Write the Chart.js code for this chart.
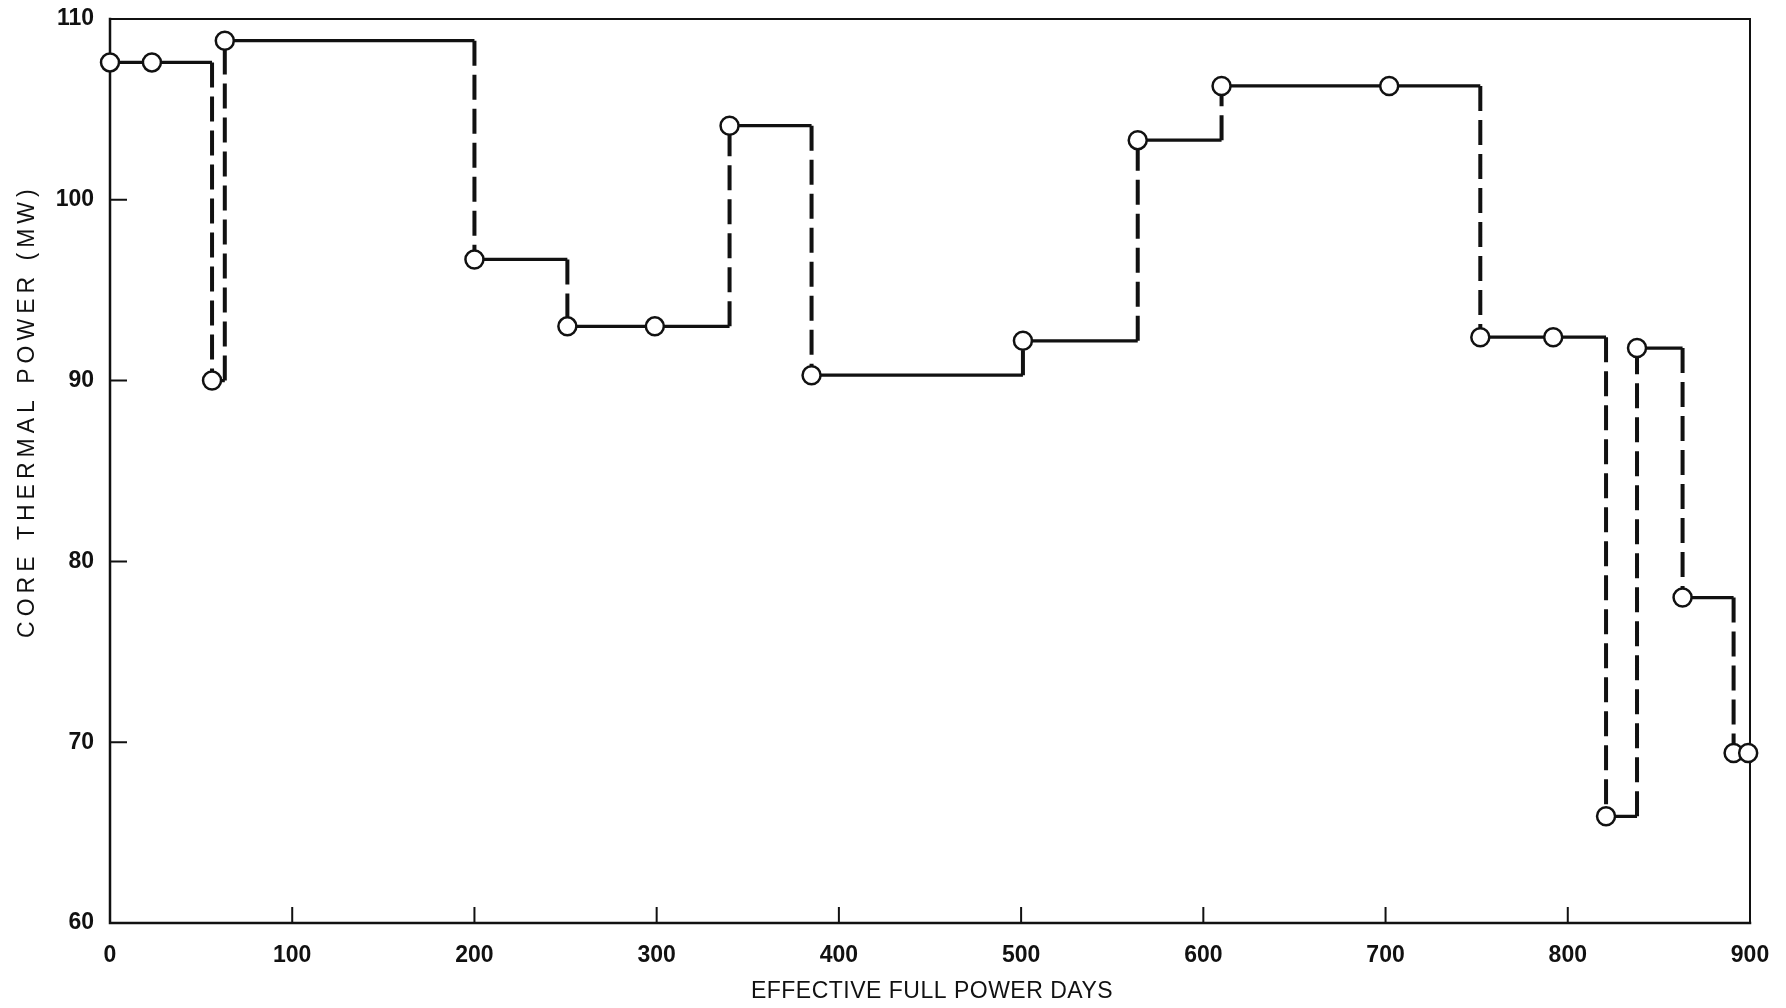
<!DOCTYPE html>
<html><head><meta charset="utf-8">
<script src="https://cdn.jsdelivr.net/npm/chart.js@4"></script>
<style>html,body{margin:0;padding:0;background:#fff;} #wrap{width:1786px;height:1008px;position:relative;}</style>
</head><body><div id="wrap"><canvas id="c"></canvas></div>
<script>
const days    = [0, 23, 56, 63, 200, 251, 299, 340, 385, 501, 564, 610, 702, 752, 792, 821, 838, 863, 891, 899];
const powerMW = [107.6, 107.6, 90.0, 108.8, 96.7, 93.0, 93.0, 104.1, 90.3, 92.2, 103.3, 106.3, 106.3, 92.4, 92.4, 65.9, 91.8, 78.0, 69.4, 69.4];
const xTickValues = [0, 100, 200, 300, 400, 500, 600, 700, 800, 900];
const yTickValues = [60, 70, 80, 90, 100, 110];
const xTitle = 'EFFECTIVE FULL POWER DAYS';
const yTitle = 'CORE THERMAL POWER (MW)';

const FONT = "'Liberation Sans', Arial, sans-serif";
const INK = '#111';

// horizontal (solid) and vertical (dashed) step pieces built from the data
const flats = [], risers = [];
for (let i = 0; i < days.length - 1; i++) {
  flats.push({x: days[i], y: powerMW[i]}, {x: days[i + 1], y: powerMW[i]}, {x: days[i + 1], y: null});
  if (powerMW[i + 1] !== powerMW[i]) {
    risers.push({x: days[i + 1], y: powerMW[i]}, {x: days[i + 1], y: powerMW[i + 1]}, {x: days[i + 1], y: null});
  }
}
const points = days.map((d, i) => ({x: d, y: powerMW[i]}));

const framePlugin = {
  id: 'frame',
  beforeDatasetsDraw(chart) {
    const {ctx, chartArea: a, scales: {x, y}} = chart;
    ctx.save();
    ctx.strokeStyle = INK; ctx.lineCap = 'square';
    ctx.lineWidth = 2.5;
    ctx.beginPath(); ctx.moveTo(a.left, a.top); ctx.lineTo(a.left, a.bottom); ctx.lineTo(a.right, a.bottom); ctx.stroke();
    ctx.lineWidth = 2;
    ctx.beginPath(); ctx.moveTo(a.left, a.top); ctx.lineTo(a.right, a.top); ctx.lineTo(a.right, a.bottom); ctx.stroke();
    ctx.lineCap = 'butt';
    ctx.beginPath();
    x.ticks.forEach(t => { if (t.value <= x.min || t.value >= x.max) return; const px = x.getPixelForValue(t.value); ctx.moveTo(px, a.bottom); ctx.lineTo(px, a.bottom - 16); });
    y.ticks.forEach(t => { if (t.value <= y.min || t.value >= y.max) return; const py = y.getPixelForValue(t.value); ctx.moveTo(a.left, py); ctx.lineTo(a.left + 17, py); });
    ctx.stroke();
    ctx.restore();
  },
  afterDraw(chart) {
    const {ctx, chartArea: a} = chart;
    ctx.save();
    ctx.fillStyle = INK;
    ctx.textAlign = 'center'; ctx.textBaseline = 'middle';
    ctx.font = "23px " + FONT;
    ctx.letterSpacing = '0.5px';
    ctx.fillText(xTitle, (a.left + a.right) / 2 + 2, a.bottom + 69);
    ctx.translate(a.left - 82, a.top + 0.436 * (a.bottom - a.top));
    ctx.rotate(-Math.PI / 2);
    ctx.letterSpacing = '5px';
    ctx.fillText(yTitle, 2, 0);
    ctx.restore();
  }
};

new Chart(document.getElementById('c'), {
  type: 'line',
  data: {
    datasets: [
      { label: 'points', data: points, showLine: false, clip: false,
        pointRadius: 9, pointHoverRadius: 9, pointBackgroundColor: '#fff', pointBorderColor: INK, pointBorderWidth: 2.5 },
      { label: 'flats', data: flats, spanGaps: false, clip: false, borderColor: INK, borderWidth: 3.2, pointRadius: 0, tension: 0 },
      { label: 'risers', data: risers, spanGaps: false, clip: false, borderColor: INK, borderWidth: 4, borderDash: [25, 9], pointRadius: 0, tension: 0 }
    ]
  },
  options: {
    responsive: true, maintainAspectRatio: false, animation: false,
    layout: { padding: { left: 0, right: 36, top: 19, bottom: 0 } },
    plugins: { legend: { display: false }, tooltip: { enabled: false } },
    scales: {
      x: {
        type: 'linear', min: 0, max: 900,
        afterBuildTicks: s => { s.ticks = xTickValues.map(v => ({value: v})); },
        afterFit: s => { s.height = 85; s.paddingLeft = 0; s.paddingRight = 0; },
        grid: { display: false, drawTicks: false },
        border: { display: false },
        ticks: { color: INK, padding: 19, maxRotation: 0, font: { family: FONT, size: 23, weight: 'bold' } }
      },
      y: {
        type: 'linear', min: 60, max: 110,
        afterBuildTicks: s => { s.ticks = yTickValues.map(v => ({value: v})); },
        afterFit: s => { s.width = 110; s.paddingTop = 0; s.paddingBottom = 0; },
        grid: { display: false, drawTicks: false },
        border: { display: false },
        ticks: { color: INK, padding: 16, font: { family: FONT, size: 23, weight: 'bold' } }
      }
    }
  },
  plugins: [framePlugin]
});
</script>
</body></html>
